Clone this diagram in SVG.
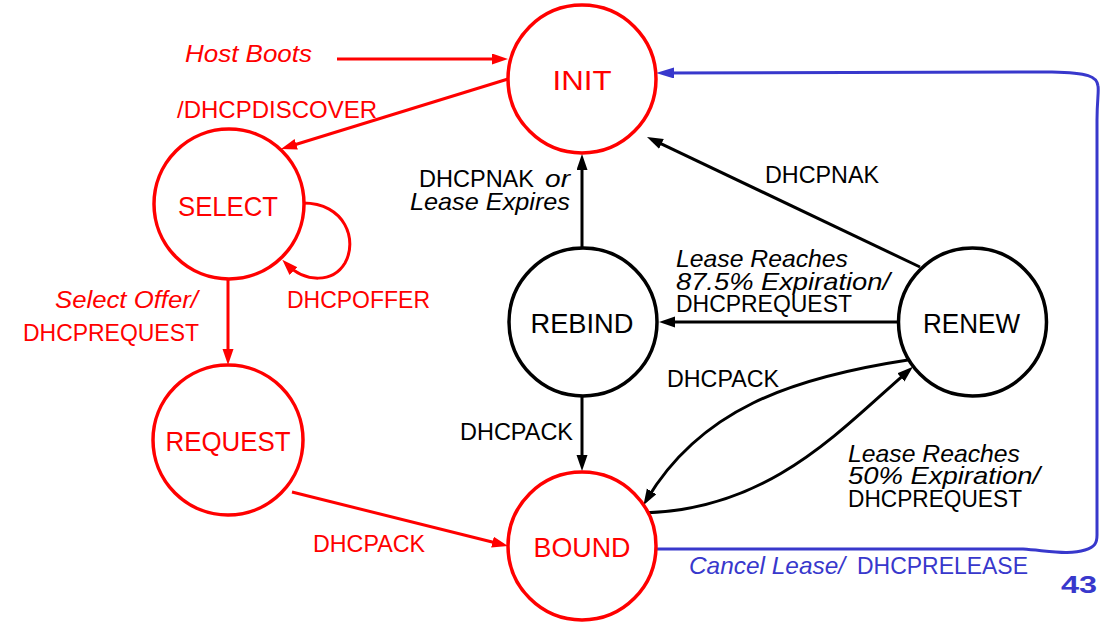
<svg xmlns="http://www.w3.org/2000/svg" width="1115" height="624" viewBox="0 0 1115 624">
<style>
text{font-family:"Liberation Sans",Arial,sans-serif;font-size:24px}
.n{font-size:28px;text-anchor:middle}
.i{font-style:italic}
.r{fill:#ff0000}
.k{fill:#000000}
.b{fill:#3838cc}
.cr{fill:#ffffff;stroke:#ff0000;stroke-width:3.5}
.ck{fill:#ffffff;stroke:#000000;stroke-width:3.5}
.lr{fill:none;stroke:#ff0000;stroke-width:3}
.lk{fill:none;stroke:#000000;stroke-width:3}
.lb{fill:none;stroke:#3838cc;stroke-width:3}
</style>
<defs>
<marker id="ar" markerUnits="userSpaceOnUse" markerWidth="16" markerHeight="12" refX="10" refY="5.5" orient="auto"><path d="M0,0 L16,5.5 L0,11 z" fill="#ff0000"/></marker>
<marker id="ak" markerUnits="userSpaceOnUse" markerWidth="16" markerHeight="12" refX="10" refY="5.5" orient="auto"><path d="M0,0 L16,5.5 L0,11 z" fill="#000000"/></marker>
<marker id="ab" markerUnits="userSpaceOnUse" markerWidth="18" markerHeight="12" refX="11" refY="5.5" orient="auto"><path d="M0,0 L18,5.5 L0,11 z" fill="#3838cc"/></marker>
</defs>
<g id="connectors">
<path class="lr" d="M337,59 L502,59" marker-end="url(#ar)"/>
<path class="lr" d="M508,79 L286.7,147.2" marker-end="url(#ar)"/>
<path class="lr" d="M303,203 C345,203 358,240 345,263 C333,283 305,283 286.5,264" marker-end="url(#ar)"/>
<path class="lr" d="M228,280 L228,359" marker-end="url(#ar)"/>
<path class="lr" d="M292,492 L502.2,544.5" marker-end="url(#ar)"/>
<path class="lk" d="M582,247 L582,160" marker-end="url(#ak)"/>
<path class="lk" d="M920,267 L652.4,139.6" marker-end="url(#ak)"/>
<path class="lk" d="M898,322 L665,322" marker-end="url(#ak)"/>
<path class="lk" d="M582,397 L582,465" marker-end="url(#ak)"/>
<path class="lk" d="M643,513 C770,510 840,430 908.4,370.8" marker-end="url(#ak)"/>
<path class="lk" d="M908,360 C790,378 700,410 646.5,500" marker-end="url(#ak)"/>
<path class="lb" d="M656,549 L1023,549 C1050,551 1070,555 1085,550 C1095,547 1097,543 1097,535 L1097,120 C1097,100 1099,92 1098,86 C1097,76 1088,73 1052,72 L663,73" marker-end="url(#ab)"/>
</g>
<g id="init"><circle class="cr" cx="582" cy="79" r="74"/><text class="n r" x="582" y="90" textLength="59" lengthAdjust="spacingAndGlyphs">INIT</text></g>
<g id="select"><circle class="cr" cx="229" cy="204" r="75"/><text class="n r" x="228" y="216" textLength="100" lengthAdjust="spacingAndGlyphs">SELECT</text></g>
<g id="request"><circle class="cr" cx="228" cy="440" r="75"/><text class="n r" x="228" y="451" textLength="125" lengthAdjust="spacingAndGlyphs">REQUEST</text></g>
<g id="bound"><circle class="cr" cx="582" cy="546" r="74"/><text class="n r" x="582" y="557" textLength="97" lengthAdjust="spacingAndGlyphs">BOUND</text></g>
<g id="rebind"><circle class="ck" cx="583" cy="322" r="74"/><text class="n k" x="582" y="333" textLength="103" lengthAdjust="spacingAndGlyphs">REBIND</text></g>
<g id="renew"><circle class="ck" cx="972.5" cy="322" r="74"/><text class="n k" x="971.5" y="333" textLength="97" lengthAdjust="spacingAndGlyphs">RENEW</text></g>
<g id="labels">
<text class="r i" x="185" y="62" textLength="127" lengthAdjust="spacingAndGlyphs">Host Boots</text>
<text class="r" x="177" y="118" textLength="200" lengthAdjust="spacingAndGlyphs">/DHCPDISCOVER</text>
<text class="r i" x="55" y="308" textLength="143" lengthAdjust="spacingAndGlyphs">Select Offer/</text>
<text class="r" x="23" y="341" textLength="176" lengthAdjust="spacingAndGlyphs">DHCPREQUEST</text>
<text class="r" x="287" y="308" textLength="143" lengthAdjust="spacingAndGlyphs">DHCPOFFER</text>
<text class="r" x="313" y="552" textLength="112" lengthAdjust="spacingAndGlyphs">DHCPACK</text>
<text class="k" x="419" y="187" textLength="115" lengthAdjust="spacingAndGlyphs">DHCPNAK</text>
<text class="k i" x="545" y="187" textLength="25" lengthAdjust="spacingAndGlyphs">or</text>
<text class="k i" x="410" y="210" textLength="160" lengthAdjust="spacingAndGlyphs">Lease Expires</text>
<text class="k" x="765" y="183" textLength="114" lengthAdjust="spacingAndGlyphs">DHCPNAK</text>
<text class="k i" x="676" y="267" textLength="172" lengthAdjust="spacingAndGlyphs">Lease Reaches</text>
<text class="k i" x="676" y="290" textLength="214" lengthAdjust="spacingAndGlyphs">87.5% Expiration/</text>
<text class="k" x="676" y="312" textLength="176" lengthAdjust="spacingAndGlyphs">DHCPREQUEST</text>
<text class="k" x="667" y="387" textLength="112" lengthAdjust="spacingAndGlyphs">DHCPACK</text>
<text class="k" x="460" y="440" textLength="113" lengthAdjust="spacingAndGlyphs">DHCPACK</text>
<text class="k i" x="848" y="462" textLength="172" lengthAdjust="spacingAndGlyphs">Lease Reaches</text>
<text class="k i" x="848" y="484" textLength="192" lengthAdjust="spacingAndGlyphs">50% Expiration/</text>
<text class="k" x="848" y="507" textLength="174" lengthAdjust="spacingAndGlyphs">DHCPREQUEST</text>
<text class="b i" x="689" y="574" textLength="156" lengthAdjust="spacingAndGlyphs">Cancel Lease/</text>
<text class="b" x="857" y="574" textLength="171" lengthAdjust="spacingAndGlyphs">DHCPRELEASE</text>
<text class="b" x="1061" y="593" font-size="28" font-weight="bold" textLength="36" lengthAdjust="spacingAndGlyphs">43</text>
</g>
</svg>
